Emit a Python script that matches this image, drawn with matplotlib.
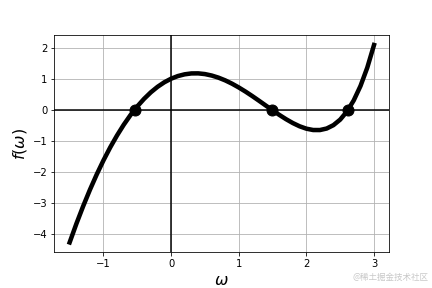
import matplotlib
matplotlib.use("Agg")
import matplotlib.pyplot as plt

omega = [-1.5, -1.4, -1.3, -1.2, -1.1, -1.0, -0.9, -0.8, -0.7, -0.6,
         -0.5, -0.4, -0.3, -0.2, -0.1, 0.0, 0.1, 0.2, 0.3, 0.4,
         0.5, 0.6, 0.7, 0.8, 0.9, 1.0, 1.1, 1.2, 1.3, 1.4,
         1.5, 1.6, 1.7, 1.8, 1.9, 2.0, 2.1, 2.2, 2.3, 2.4,
         2.5, 2.6, 2.7, 2.8, 2.9, 3.0]
f_omega = [-4.277, -3.673, -3.108, -2.579, -2.087, -1.632, -1.213, -0.831, -0.483, -0.171,
           0.107, 0.350, 0.561, 0.739, 0.885, 1.000, 1.085, 1.141, 1.170, 1.172,
           1.149, 1.102, 1.034, 0.946, 0.840, 0.718, 0.584, 0.440, 0.289, 0.135,
           -0.018, -0.167, -0.306, -0.430, -0.534, -0.611, -0.654, -0.655, -0.606, -0.497,
           -0.318, -0.056, 0.300, 0.765, 1.354, 2.086]
roots_x = [-0.540, 1.488, 2.618]
roots_y = [0.0, 0.0, 0.0]

fig = plt.figure(figsize=(6, 4), dpi=72)
ax = fig.add_axes([0.126, 0.124, 0.775, 0.754])
ax.plot(omega, f_omega, color='black', lw=4.5, zorder=3)
ax.plot(roots_x, roots_y, 'o', color='black', markersize=11, zorder=4)
ax.axhline(0, color='black', lw=1.5, zorder=2)
ax.axvline(0, color='black', lw=1.5, zorder=2)
ax.grid(True, color='#b0b0b0', lw=0.8)
ax.set_xlabel(r'$\omega$', fontsize=16)
ax.set_ylabel(r'$f(\omega)$', fontsize=16)
ax.set_xticks([-1, 0, 1, 2, 3])
ax.set_yticks([-4, -3, -2, -1, 0, 1, 2])
fig.text(0.992, 0.02, '@稀土掘金技术社区', ha='right', va='bottom', fontsize=8.5,
         color='#c8c8c8', family=['Noto Sans CJK SC', 'DejaVu Sans'])
fig.savefig('out.png', dpi=72)
